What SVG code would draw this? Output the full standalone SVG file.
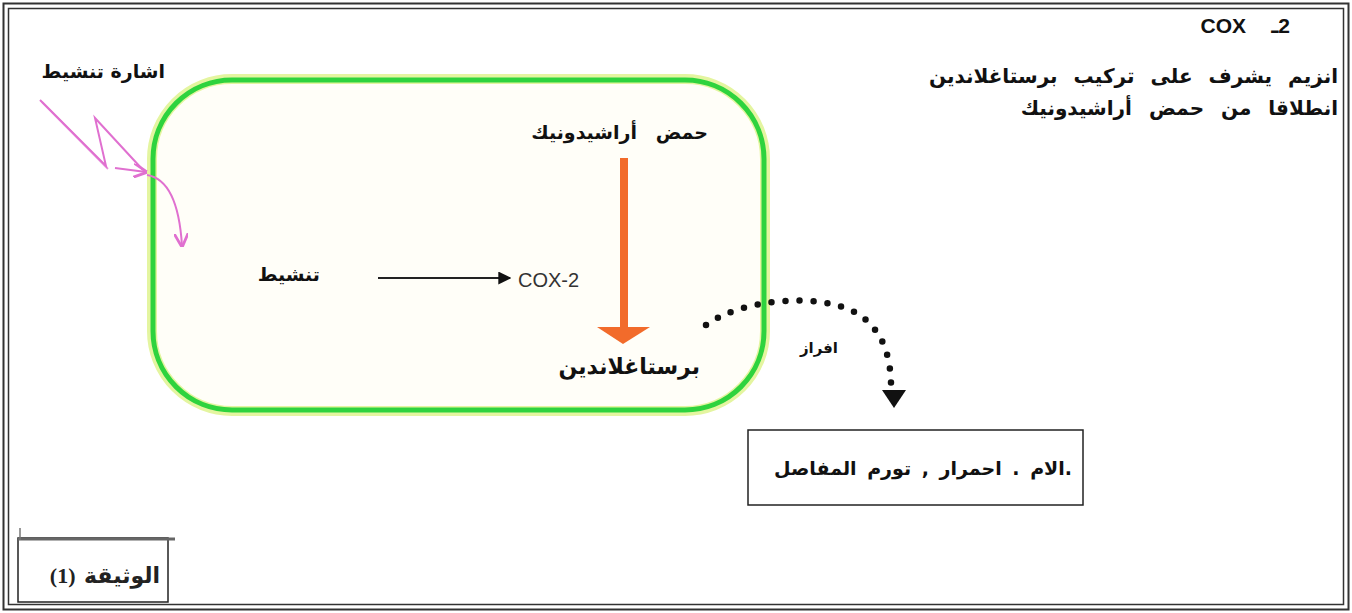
<svg xmlns="http://www.w3.org/2000/svg" width="1352" height="613" viewBox="0 0 1352 613">
<style>
.ar{font-family:"DejaVu Sans","Noto Sans",sans-serif;font-weight:bold;fill:#111;direction:rtl}
.lat{font-family:"Liberation Sans",Arial,sans-serif}
.box{fill:#fff;stroke:#222;stroke-width:1.5}
.pink{fill:none;stroke:#e070d0;stroke-width:2}
</style>
<defs>
<marker id="blk" viewBox="0 0 10 10" refX="9" refY="5" markerWidth="13" markerHeight="13" markerUnits="userSpaceOnUse" orient="auto"><path d="M0,0 L10,5 L0,10 z" fill="#111"/></marker>
<marker id="pk" viewBox="0 0 10 10" refX="9" refY="5" markerWidth="14" markerHeight="14" markerUnits="userSpaceOnUse" orient="auto"><path d="M0,0 L10,5 L0,10" fill="none" stroke="#e070d0" stroke-width="2"/></marker>
</defs>
<rect x="0" y="0" width="1352" height="613" fill="#fff"/>
<rect x="3.5" y="3.5" width="1345" height="606" fill="none" stroke="#333" stroke-width="2"/>
<rect x="8.5" y="8.5" width="1335" height="596" fill="none" stroke="#333" stroke-width="1.5"/>

<g id="cell">
<rect x="152" y="79" width="613" height="332" rx="80" fill="#fffef8" stroke="#e4f5a0" stroke-width="10"/>
<rect x="153" y="80" width="611" height="330" rx="79" fill="none" stroke="#2ed33e" stroke-width="5"/>
</g>

<g id="title">
<text x="1246" y="33" class="lat" font-size="21" font-weight="bold" fill="#111" text-anchor="end">COX</text>
<text x="1290" y="33" font-family="'Liberation Sans','DejaVu Sans',sans-serif" font-size="21" font-weight="bold" fill="#111" text-anchor="end" unicode-bidi="bidi-override" direction="ltr">ـ2</text>
<text x="1338" y="83" class="ar" font-size="20" word-spacing="9">انزيم يشرف على تركيب برستاغلاندين</text>
<text x="1338" y="115" class="ar" font-size="20" word-spacing="10">انطلاقا من حمض أراشيدونيك</text>
</g>

<g id="signal">
<text x="165" y="78" class="ar" font-size="19">اشارة تنشيط</text>
</g>

<g id="activation">
<text x="320" y="281" class="ar" font-size="19">تنشيط</text>
</g>

<g id="cox2">
<text x="518" y="287" class="lat" font-size="20" fill="#333">COX-2</text>
</g>

<g id="arachidonic">
<text x="708" y="139" class="ar" font-size="19" word-spacing="12">حمض أراشيدونيك</text>
</g>

<g id="prostaglandin">
<text x="700" y="374" class="ar" font-size="22">برستاغلاندين</text>
</g>

<g id="effects">
<rect x="748" y="430" width="335" height="75" class="box"/>
<text x="1072" y="475" class="ar" font-size="19" word-spacing="4">.الام . احمرار , تورم المفاصل</text>
</g>

<g id="document">
<rect x="18" y="538" width="150" height="64" fill="#fff" stroke="#222" stroke-width="1.5"/>
<line x1="18" y1="539" x2="175" y2="539" stroke="#666" stroke-width="3"/>
<line x1="20" y1="528" x2="20" y2="540" stroke="#777" stroke-width="1.5"/>
<text x="160" y="583" font-family="'Liberation Serif','DejaVu Sans',serif" font-weight="bold" font-size="22" fill="#222" direction="rtl" word-spacing="3">الوثيقة (1)</text>
</g>

<g id="connectors">
<line x1="378" y1="278" x2="510" y2="278" stroke="#222" stroke-width="2" marker-end="url(#blk)"/>
<rect x="620" y="158" width="8" height="170" fill="#f26b2b"/>
<path d="M597,327 L650,327 L623,344 z" fill="#f26b2b"/>
<path d="M40,100 L106,166 L95,118 L143,170" class="pink"/>
<path d="M42,102 L108,169" class="pink" opacity="0.6"/>
<path d="M115,168 L146,172" class="pink" marker-end="url(#pk)"/>
<path d="M147,175 Q178,180 182,246" class="pink" marker-end="url(#pk)"/>
<path d="M706,325 C740,300 820,290 860,315 C880,330 890,350 891,383" fill="none" stroke="#111" stroke-width="6.5" stroke-linecap="round" stroke-dasharray="0 14"/>
<path d="M882,390 L906,390 L894,408 z" fill="#111"/>
<text x="838" y="353" class="ar" font-size="15">افراز</text>
</g>
</svg>
